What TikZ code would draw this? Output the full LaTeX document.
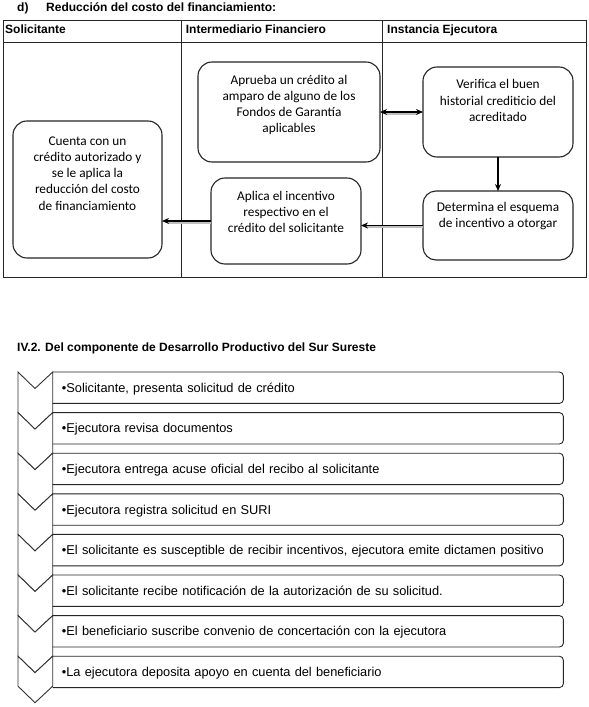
\documentclass[tikz,border=0pt]{standalone}
\usepackage{fontspec}
\setmainfont{Liberation Sans}
\newfontfamily\carlitofont{Carlito}
\usetikzlibrary{arrows.meta}
\begin{document}
\begin{tikzpicture}[x=1pt,y=-1pt,
  frame/.style={draw=black!85, line width=0.9pt},
  fbox/.style={draw=black!85, line width=1.1pt, rounded corners=14pt, inner sep=0pt, outer sep=0pt},
  btext/.style={font=\carlitofont\fontsize{13.3}{16.2}\selectfont, align=center, inner sep=0pt},
  hdr/.style={font=\bfseries\fontsize{12}{14}\selectfont, anchor=base west, inner sep=0pt},
  arr/.style={line width=1.1pt, black},
  shadowline/.style={line width=2.2pt, black!25},
  chev/.style={draw=black!80, line width=0.9pt, fill=white},
  rowbox/.style={anchor=north west, minimum width=510.3pt, minimum height=31pt, text width=492.3pt, inner xsep=9pt, inner ysep=0pt, text height=9.2pt, text depth=0pt, align=left, font=\fontsize{12.8}{15}\selectfont},
  rowline/.style={draw=black!85, line width=0.9pt, rounded corners=4pt}
]
\useasboundingbox[fill=white] (0,0) rectangle (589,707);

% titles
\node[hdr] (t1) at (17,11) {d)};
\node[hdr] (t2) at (46,11) {Reducción del costo del financiamiento:};
\node[hdr] (t3) at (17,351.7) {IV.2. Del componente de Desarrollo Productivo del Sur Sureste};

% table frame
\draw[frame] (3,20.7) rectangle (586,277);
\draw[frame] (3,42.7) -- (586,42.7);
\draw[frame] (181.7,20.7) -- (181.7,277);
\draw[frame] (382,20.7) -- (382,277);
\node[hdr] (h1) at (5,33.5) {Solicitante};
\node[hdr] (h2) at (185.7,33.5) {Intermediario Financiero};
\node[hdr] (h3) at (387,33.5) {Instancia Ejecutora};

% boxes
\node[fbox, minimum width=149pt, minimum height=137pt] (cuenta) at (87.5,189.5) {};
\node[fbox, minimum width=182pt, minimum height=100pt] (aprueba) at (289,112) {};
\node[fbox, minimum width=150pt, minimum height=90pt] (verifica) at (498,112) {};
\node[fbox, minimum width=150pt, minimum height=69pt, rounded corners=13pt] (determina) at (498,225.5) {};
\node[fbox, minimum width=150pt, minimum height=86pt] (aplica) at (286,221) {};

\node[btext] (cuentaT) at (87.5,173.5) {Cuenta con un\\crédito autorizado y\\se le aplica la\\reducción del costo\\de financiamiento};
\node[btext] (apruebaT) at (289,105) {Aprueba un crédito al\\amparo de alguno de los\\Fondos de Garantía\\aplicables};
\node[btext] (verificaT) at (498,100.5) {Verifica el buen\\historial crediticio del\\acreditado};
\node[btext] (determinaT) at (498,216) {Determina el esquema\\de incentivo a otorgar};
\node[btext] (aplicaT) at (286,212) {Aplica el incentivo\\respectivo en el\\crédito del solicitante};

% connectors
\draw[shadowline] ([xshift=6pt,yshift=-1.6pt]aprueba.east) -- ([xshift=-6pt,yshift=-1.6pt]verifica.west);
\draw[arr, {Stealth[length=7pt,width=6pt]}-{Stealth[length=7pt,width=6pt]}] (aprueba.east) -- (verifica.west);
\draw[arr, -{Stealth[length=7pt,width=6pt]}] (verifica.south) -- (determina.north);
\draw[shadowline] ([yshift=-1.6pt]determina.west) -- ([xshift=6pt,yshift=-1.6pt]determina.west -| aplica.east);
\draw[arr, -{Stealth[length=7pt,width=6pt]}] (determina.west) -- (determina.west -| aplica.east);
\draw[shadowline] ([yshift=-1.6pt]aplica.west) -- ([xshift=6pt,yshift=-1.6pt]aplica.west -| cuenta.east);
\draw[arr, -{Stealth[length=7pt,width=6pt]}] (aplica.west) -- (aplica.west -| cuenta.east);

% chevron list
\foreach \i/\txt in {
  0/{•Solicitante, presenta solicitud de crédito},
  1/{•Ejecutora revisa documentos},
  2/{•Ejecutora entrega acuse oficial del recibo al solicitante},
  3/{•Ejecutora registra solicitud en SURI},
  4/{•El solicitante es susceptible de recibir incentivos, ejecutora emite dictamen positivo},
  5/{•El solicitante recibe notificación de la autorización de su solicitud.},
  6/{•El beneficiario suscribe convenio de concertación con la ejecutora},
  7/{•La ejecutora deposita apoyo en cuenta del beneficiario}}{
  \pgfmathsetmacro\tt{372+40.6*\i}
  \pgfmathsetmacro\ss{\i<7 ? 40.6 : 30}
  \draw[chev] (18,\tt) -- (35,\tt+16.5) -- (52.7,\tt) -- (52.7,\tt+\ss) -- (35,\tt+\ss+16.5) -- (18,\tt+\ss) -- cycle;
  \node[rowbox] (row\i) at (52.7,\tt) {\txt};
  \draw[rowline] (row\i.north west) -- (row\i.north east) -- (row\i.south east) -- (row\i.south west);
}
\end{tikzpicture}
\end{document}
